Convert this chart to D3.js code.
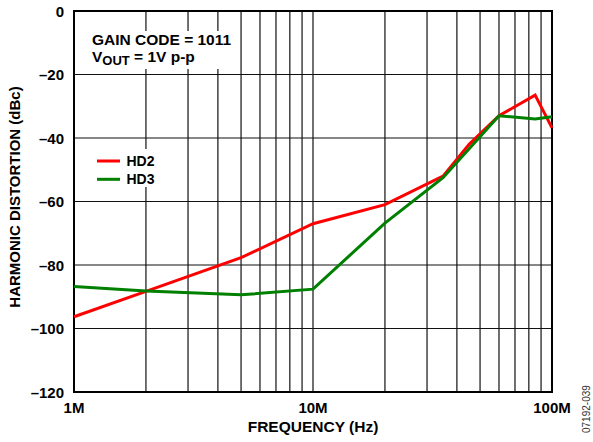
<!DOCTYPE html>
<html>
<head>
<meta charset="utf-8">
<script src="https://cdn.jsdelivr.net/npm/d3@7"></script>
<style>
body { margin: 0; background: #fff; }
text { font-family: "Liberation Sans", Arial, sans-serif; }
</style>
</head>
<body>
<div class="drawingArea"></div>
<script>
// frequencies in MHz, values in dBc
var hd2Freq = [1, 2, 5, 10, 20, 35, 45, 60, 85, 100];
var hd2Vals = [-96.3, -88.3, -77.7, -67, -61, -52, -42, -33, -26.5, -36.8];
var hd3Freq = [1, 2, 5, 10, 20, 35, 60, 85, 100];
var hd3Vals = [-86.8, -88.2, -89.4, -87.6, -66.8, -52.5, -33, -34, -33.3];

var yTicks = [0, -20, -40, -60, -80, -100, -120];
var xTickLabels = [[1, "1M"], [10, "10M"], [100, "100M"]];

var width = 593, height = 442;
// plot box (avoid "top", it is window.top)
var plotLeft = 74, plotRight = 552, plotTop = 11, plotBottom = 392;
var fontSize = 15;

var svg = d3.select(".drawingArea").append("svg")
    .attr("width", width)
    .attr("height", height);

var x = d3.scaleLog().domain([1, 100]).range([plotLeft, plotRight]);
var y = d3.scaleLinear().domain([-120, 0]).range([plotBottom, plotTop]);

// vertical grid, 1..9 per decade
var gridX = [];
[1, 10].forEach(function(d) {
    for (var i = 1; i < 10; i++) gridX.push(d * i);
});
gridX.push(100);

var grid = svg.append("g");
grid.selectAll(".vx").data(gridX).enter().append("line")
    .attr("x1", function(d) { return x(d); })
    .attr("x2", function(d) { return x(d); })
    .attr("y1", plotTop).attr("y2", plotBottom)
    .attr("stroke", "#111").attr("stroke-width", 1.2);

grid.selectAll(".hy").data(yTicks).enter().append("line")
    .attr("x1", plotLeft).attr("x2", plotRight)
    .attr("y1", function(d) { return y(d); })
    .attr("y2", function(d) { return y(d); })
    .attr("stroke", "#111").attr("stroke-width", 1.2);

svg.append("rect")
    .attr("x", plotLeft).attr("y", plotTop)
    .attr("width", plotRight - plotLeft).attr("height", plotBottom - plotTop)
    .attr("fill", "none").attr("stroke", "#000").attr("stroke-width", 2);

// white boxes behind text
svg.append("rect").attr("x", 88).attr("y", 31).attr("width", 150).attr("height", 38).attr("fill", "#fff");
svg.append("rect").attr("x", 92).attr("y", 149).attr("width", 72).attr("height", 38).attr("fill", "#fff");

// y tick labels
svg.selectAll(".ytl").data(yTicks).enter().append("text")
    .attr("x", plotLeft - 10)
    .attr("y", function(d) { return y(d) + 5.5; })
    .attr("text-anchor", "end")
    .attr("font-size", fontSize).attr("font-weight", "bold")
    .text(function(d) { return d === 0 ? "0" : "\u2013" + Math.abs(d); });

svg.selectAll(".xtl").data(xTickLabels).enter().append("text")
    .attr("x", function(d) { return x(d[0]); })
    .attr("y", 413)
    .attr("text-anchor", "middle")
    .attr("font-size", fontSize).attr("font-weight", "bold")
    .text(function(d) { return d[1]; });

svg.append("text")
    .attr("x", 313).attr("y", 432)
    .attr("text-anchor", "middle")
    .attr("font-size", 15.5).attr("font-weight", "bold")
    .text("FREQUENCY (Hz)");

svg.append("text")
    .attr("transform", "translate(19.5,197) rotate(-90)")
    .attr("text-anchor", "middle")
    .attr("font-size", fontSize).attr("font-weight", "bold")
    .text("HARMONIC DISTORTION (dBc)");

svg.append("text")
    .attr("transform", "translate(590,433) rotate(-90)")
    .attr("font-size", 10).attr("fill", "#333")
    .text("07192-039");

// annotation
svg.append("text").attr("x", 92).attr("y", 45)
    .attr("font-size", 15.5).attr("font-weight", "bold")
    .text("GAIN CODE = 1011");
var vout = svg.append("text").attr("x", 92).attr("y", 62)
    .attr("font-size", 15.5).attr("font-weight", "bold");
vout.append("tspan").text("V");
vout.append("tspan").attr("font-size", 13).attr("dy", 3).text("OUT");
vout.append("tspan").attr("dy", -3).text(" = 1V p-p");

// lines
var line = d3.line()
    .x(function(d) { return x(d[0]); })
    .y(function(d) { return y(d[1]); });

var hd3 = d3.zip(hd3Freq, hd3Vals);
var hd2 = d3.zip(hd2Freq, hd2Vals);

svg.append("path").datum(hd2)
    .attr("d", line).attr("fill", "none")
    .attr("stroke", "#ff0000").attr("stroke-width", 3);
svg.append("path").datum(hd3)
    .attr("d", line).attr("fill", "none")
    .attr("stroke", "#008000").attr("stroke-width", 3);

// legend
var legend = [["HD2", "#ff0000"], ["HD3", "#008000"]];
var lg = svg.selectAll(".lg").data(legend).enter().append("g")
    .attr("transform", function(d, i) { return "translate(97," + (161 + i * 18.3) + ")"; });
lg.append("line").attr("x1", 0).attr("x2", 23)
    .attr("stroke", function(d) { return d[1]; }).attr("stroke-width", 3);
lg.append("text").attr("x", 29.5).attr("y", 5)
    .attr("font-size", 14).attr("font-weight", "bold")
    .text(function(d) { return d[0]; });
</script>
</body>
</html>
